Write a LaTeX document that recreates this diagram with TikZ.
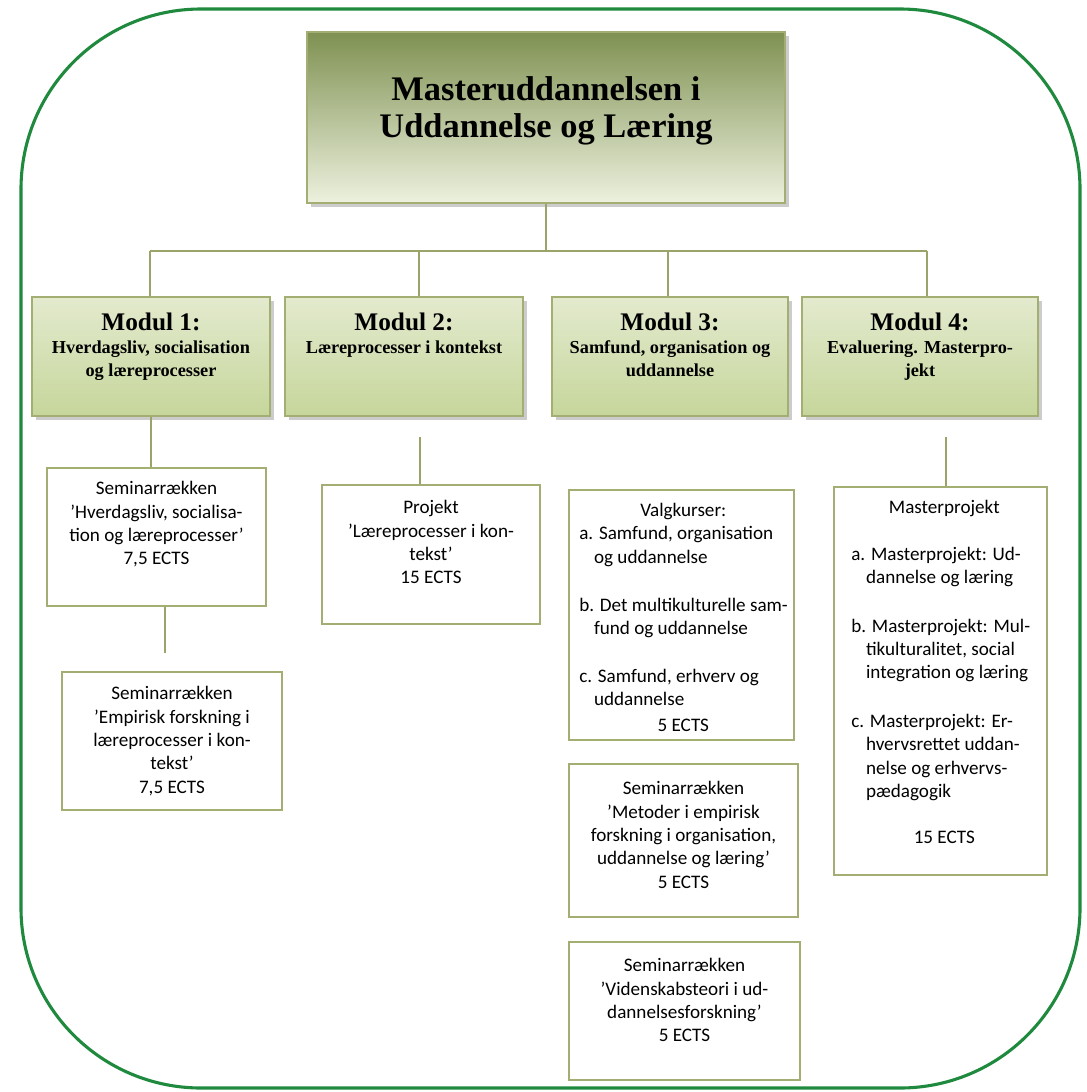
\documentclass[tikz,border=0pt]{standalone}
\usepackage{fontspec}
\setmainfont{Carlito}
\newfontfamily\tnr{Liberation Serif}
\usetikzlibrary{positioning}
\usetikzlibrary{fit}
\usetikzlibrary{shadows}
\definecolor{ramme}{HTML}{1F8A3E}
\definecolor{oliven}{HTML}{7F9152}
\definecolor{lysoliven}{HTML}{EDF1DE}
\definecolor{modtop}{HTML}{E3EACE}
\definecolor{modbund}{HTML}{C6D69B}
\definecolor{kant}{HTML}{A3AE72}
\definecolor{streg}{HTML}{98A468}

\begin{document}
\begin{tikzpicture}[x=0.025cm, y=-0.025cm,
hoved/.style={inner sep=0, fit={#1}, top color=oliven, bottom color=lysoliven, draw=kant, line width=1.2pt, drop shadow={shadow xshift=2.5pt, shadow yshift=-2.5pt, fill=black!40}},
modul/.style={inner sep=0, fit={#1}, top color=modtop, bottom color=modbund, draw=kant, line width=1.2pt, drop shadow={shadow xshift=2.5pt, shadow yshift=-2.5pt, fill=black!40}},
kasse/.style={inner sep=0, fit={#1}, fill=white, draw=kant, line width=1.2pt},
modtekst/.style={inner sep=0, align=center, font=\tnr\bfseries\fontsize{13}{16}\selectfont},
tekst/.style={inner sep=0, align=center, font=\fontsize{13.6}{16.6}\selectfont},
linje/.style={draw=streg, line width=1pt}]
\useasboundingbox (0,0) rectangle (1086,1092);
\draw[ramme, line width=2.2pt, rounded corners=4.5cm] (21,9) rectangle (1080,1088);
%%%%%%%%%% TOP %%%%%%%%%%%
\node[hoved={(307,32) (785,203)}] (top) {};
\node[modtekst, font=\tnr\bfseries\fontsize{24.5}{26.5}\selectfont, below=1.12cm of top.north] (titel) {Masteruddannelsen i\\Uddannelse og Læring};
\node[modul={(32,297) (270,416)}] (m1) {};
\node[modul={(285,297) (523,416)}] (m2) {};
\node[modul={(552,297) (788,416)}] (m3) {};
\node[modul={(802,297) (1038,416)}] (m4) {};
\node[modtekst, below=0.4cm of m1.north] (mt1) {{\fontsize{18}{20}\selectfont Modul 1:}\\[1pt]Hverdagsliv, socialisation\\og læreprocesser};
\node[modtekst, below=0.4cm of m2.north] (mt2) {{\fontsize{18}{20}\selectfont Modul 2:}\\[1pt]Læreprocesser i kontekst};
\node[modtekst, below=0.4cm of m3.north] (mt3) {{\fontsize{18}{20}\selectfont Modul 3:}\\[1pt]Samfund, organisation og\\uddannelse};
\node[modtekst, below=0.4cm of m4.north] (mt4) {{\fontsize{18}{20}\selectfont Modul 4:}\\[1pt]Evaluering. Masterpro-\\jekt};
\coordinate (b1) at (150,251);
\coordinate (b2) at (419,251);
\coordinate (b3) at (668,251);
\coordinate (b4) at (927,251);
\draw[linje] (top.south) -- (top.south |- b1);
\draw[linje] (b1) -- (b4);
\foreach \i in {1,...,4}
  \draw[linje] (b\i) -- (b\i |- m\i.north);
%%%%%%%%%% KASSER %%%%%%%%%%%
\node[kasse={(47,468) (266,606)}] (k1) {};
\node[kasse={(62,672) (282,810)}] (k2) {};
\node[kasse={(322,485) (540,624)}] (k3) {};
\node[kasse={(569,490) (794,740)}] (k4) {};
\node[kasse={(834,487) (1047,875)}] (k5) {};
\node[kasse={(569,764) (798,917)}] (k6) {};
\node[kasse={(569,942) (800,1080)}] (k7) {};
\node[tekst, below=0.35cm of k1.north] (s1) {Seminarrækken\\’Hverdagsliv, socialisa-\\tion og læreprocesser’\\7,5 ECTS};
\node[tekst, below=0.38cm of k2.north] (s2) {Seminarrækken\\’Empirisk forskning i\\læreprocesser i kon-\\tekst’\\7,5 ECTS};
\node[tekst, below=0.4cm of k3.north] (s3) {Projekt\\’Læreprocesser i kon-\\tekst’\\15 ECTS};
\node[tekst, below=0.45cm of k6.north] (s6) {Seminarrækken\\’Metoder i empirisk\\forskning i organisation,\\uddannelse og læring’\\5 ECTS};
\node[tekst, below=0.43cm of k7.north] (s7) {Seminarrækken\\’Videnskabsteori i ud-\\dannelsesforskning’\\5 ECTS};
\node[anchor=north west, inner sep=0] (s4) at (579,503) {\begin{minipage}{5.2cm}\fontsize{13.6}{16.6}\selectfont
{\centering Valgkurser:\par}
\raggedright
a. Samfund, organisation\\\hspace*{10.5pt}og uddannelse\par\vspace{17.5pt}
\mbox{b. Det multikulturelle sam-}\\\hspace*{10.5pt}fund og uddannelse\par\vspace{17.5pt}
c. Samfund, erhverv og\\\hspace*{10.5pt}uddannelse\par\vspace{1.5pt}
{\centering 5 ECTS\par}
\end{minipage}};
\node[anchor=north west, inner sep=0] (s5) at (851,500) {\begin{minipage}{4.65cm}\fontsize{13.6}{16.6}\selectfont
{\centering Masterprojekt\par}\vspace{16.5pt}
\raggedright
a. Masterprojekt: Ud-\\\hspace*{10.5pt}dannelse og læring\par\vspace{18pt}
b. Masterprojekt: Mul-\\\hspace*{10.5pt}tikulturalitet, social\\\hspace*{10.5pt}integration og læring\par\vspace{18pt}
c. Masterprojekt: Er-\\\hspace*{10.5pt}hvervsrettet uddan-\\\hspace*{10.5pt}nelse og erhvervs-\\\hspace*{10.5pt}pædagogik\par\vspace{16pt}
{\centering 15 ECTS\par}
\end{minipage}};
%%%%%%%%%% FORBINDELSER %%%%%%%%%%%
\coordinate (u2) at (420,437);
\coordinate (u4) at (946,437);
\coordinate (u5) at (165,653);
\draw[linje] (m1.south) -- (m1.south |- k1.north);
\draw[linje] (u2) -- (u2 |- k3.north);
\draw[linje] (u4) -- (u4 |- k5.north);
\draw[linje] (u5 |- k1.south) -- (u5);
\end{tikzpicture}
\end{document}
